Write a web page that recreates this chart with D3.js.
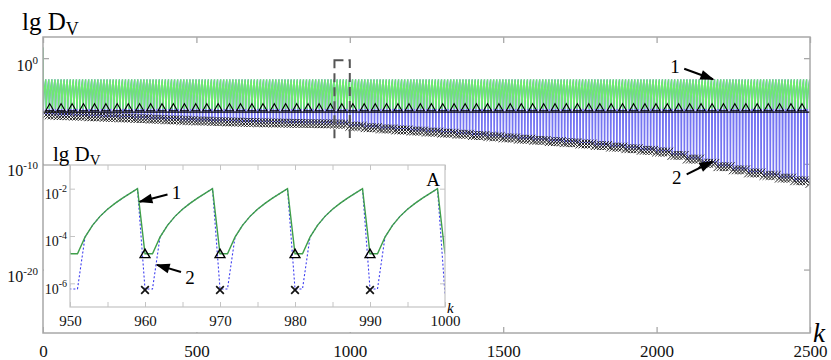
<!DOCTYPE html>
<html>
<head>
<meta charset="utf-8">
<script src="https://cdn.jsdelivr.net/npm/d3@7"></script>
<style>
  body { margin: 0; background: #fff; }
  svg { display: block; font-family: 'Liberation Serif', 'DejaVu Serif', serif; }
</style>
</head>
<body>
<svg width="831" height="360"></svg>
<script>
  const svg = d3.select('svg');
  const width = +svg.attr('width');
  const height = +svg.attr('height');
  const serif = "'Liberation Serif', 'DejaVu Serif', serif";

  // lg D_V over one period (k offsets 0..9), curve 1
  const cycleLg1 = [-4.75, -4.75, -4.05, -3.55, -3.17, -2.87, -2.62, -2.40, -2.20, -2.00];
  // curve 2 follows curve 1 except at these offsets, where it dips to its floor
  const dipOffsets = [0, 1];
  // floor of curve 2 (lg), read every 50 steps of k, 0..2500
  const floorStep = 50;
  const floorLg2 = [
    -5.38, -5.43, -5.49, -5.55, -5.60, -5.66, -5.72, -5.78, -5.84, -5.90,
    -5.95, -6.00, -6.04, -6.08, -6.11, -6.14, -6.17, -6.19, -6.21, -6.24,
    -6.45, -6.58, -6.70, -6.80, -6.90, -7.00, -7.10, -7.20, -7.32, -7.43,
    -7.55, -7.67, -7.78, -7.90, -8.00, -8.12, -8.27, -8.42, -8.57, -8.72,
    -8.88, -9.20, -9.55, -9.95, -10.27, -10.57, -10.86, -11.10, -11.35, -11.60,
    -11.85
  ];
  const startLg = 1.0;      // both curves at k = 0
  const kMax = 2500;
  const triangleLg = -4.75; // level of the triangle markers
  const baseLineLg = -5.1;  // black line under the triangles

  const mainXTicks = [0, 500, 1000, 1500, 2000, 2500];
  const mainYTicks = [0, -10, -20];
  const insetXTicks = [950, 955, 960, 965, 970, 975, 980, 985, 990, 995, 1000];
  const insetXLabels = [950, 960, 970, 980, 990, 1000];
  const insetYTicks = [-2, -4, -6];
  const insetMarkK = [960, 970, 980, 990];

  // build the two curves by repeating the period
  const series = d3.range(0, kMax + 1).map(k => {
    const off = k % 10;
    const lg1 = k === 0 ? startLg : cycleLg1[off];
    const lg2 = k === 0 ? startLg
      : (dipOffsets.includes(off) ? floorLg2[Math.floor(k / floorStep)] : lg1);
    return { k, v1: Math.pow(10, lg1), v2: Math.pow(10, lg2) };
  });
  const troughs = series.filter(d => d.k > 0 && d.k % 10 === 0);
  const mainTriK = d3.range(22, kMax, 36.6).map(Math.round);

  const pow = lg => Math.pow(10, lg);

  // ---------- main axes ----------
  const margin = { top: 37, right: 21, bottom: 27, left: 43 };
  const innerWidth = width - margin.left - margin.right;
  const innerHeight = height - margin.top - margin.bottom;

  const xScale = d3.scaleLinear().domain([0, kMax]).range([0, innerWidth]);
  const yScale = d3.scaleLog().domain([1e-26, 1e2]).range([innerHeight, 0]);

  const g = svg.append('g')
    .attr('transform', `translate(${margin.left},${margin.top})`);

  const defs = svg.append('defs');
  defs.append('clipPath').attr('id', 'clipMain')
    .append('rect').attr('width', innerWidth).attr('height', innerHeight);

  const frameColor = '#a8a8a8';

  const supLabel = (sel, expo, supSize) => {
    sel.each(function (d) {
      const t = d3.select(this).text(null);
      t.append('tspan').text('10');
      t.append('tspan').attr('dy', -7).attr('font-size', supSize).text(expo(d));
    });
  };

  const xAxisG = g.append('g')
    .attr('transform', `translate(0,${innerHeight})`)
    .call(d3.axisBottom(xScale).tickValues(mainXTicks).tickSize(-6).tickPadding(12)
      .tickFormat(d3.format('d')));
  g.append('g').attr('class', 'bare')
    .call(d3.axisTop(xScale).tickValues(mainXTicks).tickSize(-6));
  const yAxisG = g.append('g')
    .call(d3.axisLeft(yScale).tickValues(mainYTicks.map(pow)).tickSize(-6).tickPadding(5));
  g.append('g').attr('class', 'bare')
    .attr('transform', `translate(${innerWidth},0)`)
    .call(d3.axisRight(yScale).tickValues(mainYTicks.map(pow)).tickSize(-6));

  g.selectAll('.domain').remove();
  g.selectAll('.bare text').remove();
  g.selectAll('.tick line').attr('stroke', frameColor).attr('stroke-width', 1.3);
  xAxisG.selectAll('text').attr('font-size', 17).attr('fill', '#111')
    .style('font-family', serif);
  yAxisG.selectAll('text').attr('font-size', 16).attr('fill', '#111')
    .style('font-family', serif).attr('dy', '0.75em')
    .call(supLabel, d => Math.round(Math.log10(d)), 11);

  // curves
  const plot = g.append('g').attr('clip-path', 'url(#clipMain)');
  const line2 = d3.line().x(d => xScale(d.k)).y(d => yScale(d.v2));
  const line1 = d3.line().x(d => xScale(d.k)).y(d => yScale(d.v1));

  plot.append('path').attr('d', line2(series))
    .attr('fill', 'none').attr('stroke', '#7474f2').attr('stroke-width', 1.3);
  plot.append('path').attr('d', line1(series))
    .attr('fill', 'none').attr('stroke', '#6eec6e').attr('stroke-width', 1.3);

  plot.append('path')
    .attr('d', d3.line()([[xScale(0), yScale(pow(baseLineLg))], [xScale(kMax), yScale(pow(baseLineLg))]]))
    .attr('stroke', '#000').attr('stroke-width', 1.2);

  const xSym = d3.symbol().type(d3.symbolTimes || d3.symbolX).size(52);
  plot.append('g').selectAll('path').data(troughs).join('path')
    .attr('transform', d => `translate(${xScale(d.k)},${yScale(d.v2)})`)
    .attr('d', xSym())
    .attr('fill', 'none').attr('stroke', '#1a1a1a').attr('stroke-width', 0.95);

  const triSym = d3.symbol().type(d3.symbolTriangle).size(28);
  plot.append('g').selectAll('path').data(mainTriK).join('path')
    .attr('transform', d => `translate(${xScale(d)},${yScale(pow(triangleLg))})`)
    .attr('d', triSym())
    .attr('fill', 'none').attr('stroke', '#000').attr('stroke-width', 1.1);

  g.append('rect')
    .attr('width', innerWidth).attr('height', innerHeight)
    .attr('fill', 'none').attr('stroke', frameColor).attr('stroke-width', 1.5);

  // zoom box
  const boxK = [950, 1000];
  const boxLg = [-0.2, -8.4];
  g.append('rect')
    .attr('x', xScale(boxK[0])).attr('y', yScale(pow(boxLg[0])))
    .attr('width', xScale(boxK[1]) - xScale(boxK[0]))
    .attr('height', yScale(pow(boxLg[1])) - yScale(pow(boxLg[0])))
    .attr('fill', 'none').attr('stroke', '#555').attr('stroke-width', 2)
    .attr('stroke-dasharray', '9,5');

  // annotations
  defs.append('marker')
    .attr('id', 'arrow').attr('viewBox', '0 0 10 10').attr('refX', 9).attr('refY', 5)
    .attr('markerWidth', 9).attr('markerHeight', 7).attr('orient', 'auto')
    .append('path').attr('d', 'M0,1.5L10,5L0,8.5Z').attr('fill', '#000');

  const mainNotes = [
    { label: '1', at: [2060, -0.8], from: [2090, -1.0], to: [2184, -2.0] },
    { label: '2', at: [2066, -11.3], from: [2098, -11.0], to: [2181, -9.8] }
  ];
  mainNotes.forEach(n => {
    g.append('line')
      .attr('x1', xScale(n.from[0])).attr('y1', yScale(pow(n.from[1])))
      .attr('x2', xScale(n.to[0])).attr('y2', yScale(pow(n.to[1])))
      .attr('stroke', '#000').attr('stroke-width', 2).attr('marker-end', 'url(#arrow)');
    g.append('text')
      .attr('x', xScale(n.at[0])).attr('y', yScale(pow(n.at[1])))
      .attr('text-anchor', 'middle').attr('dy', '0.35em')
      .attr('font-size', 19).text(n.label);
  });

  // axis titles
  const yTitle = svg.append('text').attr('x', 22).attr('y', 30).attr('font-size', 25);
  yTitle.append('tspan').text('lg D');
  yTitle.append('tspan').attr('dy', 5).attr('font-size', 18).text('V');

  svg.append('text').attr('x', 813).attr('y', 342)
    .attr('font-size', 27).attr('font-style', 'italic').text('k');

  // ---------- inset ----------
  const ins = { left: 70, top: 165, right: 445, bottom: 307 };
  const ix = d3.scaleLinear().domain([950, 1000]).range([0, ins.right - ins.left]);
  const iy = d3.scaleLog().domain([1e-7, 1e-1]).range([ins.bottom - ins.top, 0]);
  const iw = ins.right - ins.left;
  const ih = ins.bottom - ins.top;

  // connector from the zoom box to the inset
  const connFrom = [margin.left + xScale(boxK[0]), margin.top + yScale(pow(boxLg[1]))];
  const connTo = [ins.left + ix(975), ins.top];
  svg.append('line')
    .attr('x1', connFrom[0]).attr('y1', connFrom[1])
    .attr('x2', connTo[0]).attr('y2', connTo[1])
    .attr('stroke', '#555').attr('stroke-width', 2).attr('stroke-dasharray', '9,5');

  svg.append('rect')
    .attr('x', margin.left + 1).attr('y', 140)
    .attr('width', ins.right + 4 - margin.left).attr('height', margin.top + innerHeight - 141)
    .attr('fill', '#fff');
  svg.append('line')
    .attr('x1', margin.left).attr('x2', ins.left).attr('y1', ins.top).attr('y2', ins.top)
    .attr('stroke', frameColor).attr('stroke-width', 1.3);

  const ig = svg.append('g').attr('transform', `translate(${ins.left},${ins.top})`);
  defs.append('clipPath').attr('id', 'clipInset')
    .append('rect').attr('width', iw).attr('height', ih);

  const ixAxisG = ig.append('g').attr('transform', `translate(0,${ih})`)
    .call(d3.axisBottom(ix).tickValues(insetXTicks).tickSize(-5).tickPadding(8)
      .tickFormat(d => d));
  ig.append('g').attr('class', 'bare')
    .call(d3.axisTop(ix).tickValues(insetXTicks).tickSize(-5));
  const iyAxisG = ig.append('g')
    .call(d3.axisLeft(iy).tickValues(insetYTicks.map(pow)).tickSize(-5).tickPadding(3));
  ig.append('g').attr('class', 'bare').attr('transform', `translate(${iw},0)`)
    .call(d3.axisRight(iy).tickValues(insetYTicks.map(pow)).tickSize(-5));
  ig.selectAll('.domain').remove();
  ig.selectAll('.bare text').remove();
  ixAxisG.selectAll('.tick').filter(d => !insetXLabels.includes(d)).select('text').remove();
  ig.selectAll('.tick line').attr('stroke', '#c4c4c4');
  ixAxisG.selectAll('text').attr('font-size', 15).attr('fill', '#111')
    .style('font-family', serif);
  iyAxisG.selectAll('text').attr('font-size', 14).attr('fill', '#111')
    .style('font-family', serif).attr('dy', '0.7em')
    .call(supLabel, d => Math.round(Math.log10(d)), 10);

  const inData = series.filter(d => d.k >= 949 && d.k <= 1000);
  const iplot = ig.append('g').attr('clip-path', 'url(#clipInset)');
  iplot.append('path')
    .attr('d', d3.line().x(d => ix(d.k)).y(d => iy(d.v2))(inData))
    .attr('fill', 'none').attr('stroke', '#3c3cf0').attr('stroke-width', 1.1)
    .attr('stroke-dasharray', '2,2');
  iplot.append('path')
    .attr('d', d3.line().x(d => ix(d.k)).y(d => iy(d.v1))(inData))
    .attr('fill', 'none').attr('stroke', '#3f9f4a').attr('stroke-width', 1.4);

  const inMarks = series.filter(d => insetMarkK.includes(d.k));
  ig.append('g').selectAll('path').data(inMarks).join('path')
    .attr('transform', d => `translate(${ix(d.k)},${iy(d.v1) + 1})`)
    .attr('d', d3.symbol().type(d3.symbolTriangle).size(42)())
    .attr('fill', 'none').attr('stroke', '#000').attr('stroke-width', 1.4);
  ig.append('g').selectAll('path').data(inMarks).join('path')
    .attr('transform', d => `translate(${ix(d.k)},${iy(d.v2) + 1})`)
    .attr('d', d3.symbol().type(d3.symbolTimes || d3.symbolX).size(40)())
    .attr('fill', 'none').attr('stroke', '#111').attr('stroke-width', 1.7);

  ig.append('rect').attr('width', iw).attr('height', ih)
    .attr('fill', 'none').attr('stroke', '#c4c4c4').attr('stroke-width', 1.2);

  const insetNotes = [
    { label: '1', at: [964.2, -2.15], from: [963.0, -2.25], to: [959.3, -2.55] },
    { label: '2', at: [966.0, -5.75], from: [964.8, -5.52], to: [961.6, -5.22] }
  ];
  insetNotes.forEach(n => {
    ig.append('line')
      .attr('x1', ix(n.from[0])).attr('y1', iy(pow(n.from[1])))
      .attr('x2', ix(n.to[0])).attr('y2', iy(pow(n.to[1])))
      .attr('stroke', '#000').attr('stroke-width', 2).attr('marker-end', 'url(#arrow)');
    ig.append('text')
      .attr('x', ix(n.at[0])).attr('y', iy(pow(n.at[1])))
      .attr('text-anchor', 'middle').attr('dy', '0.35em')
      .attr('font-size', 19).text(n.label);
  });

  ig.append('text').attr('x', ix(998.4)).attr('y', iy(pow(-1.6)))
    .attr('text-anchor', 'middle').attr('dy', '0.35em').attr('font-size', 19).text('A');
  ig.append('text').attr('x', iw + 2).attr('y', ih + 6)
    .attr('font-size', 15).attr('font-style', 'italic').text('k');

  const iTitle = svg.append('text').attr('x', 53).attr('y', 161).attr('font-size', 21);
  iTitle.append('tspan').text('lg D');
  iTitle.append('tspan').attr('dy', 4).attr('font-size', 15).text('V');
</script>
</body>
</html>
